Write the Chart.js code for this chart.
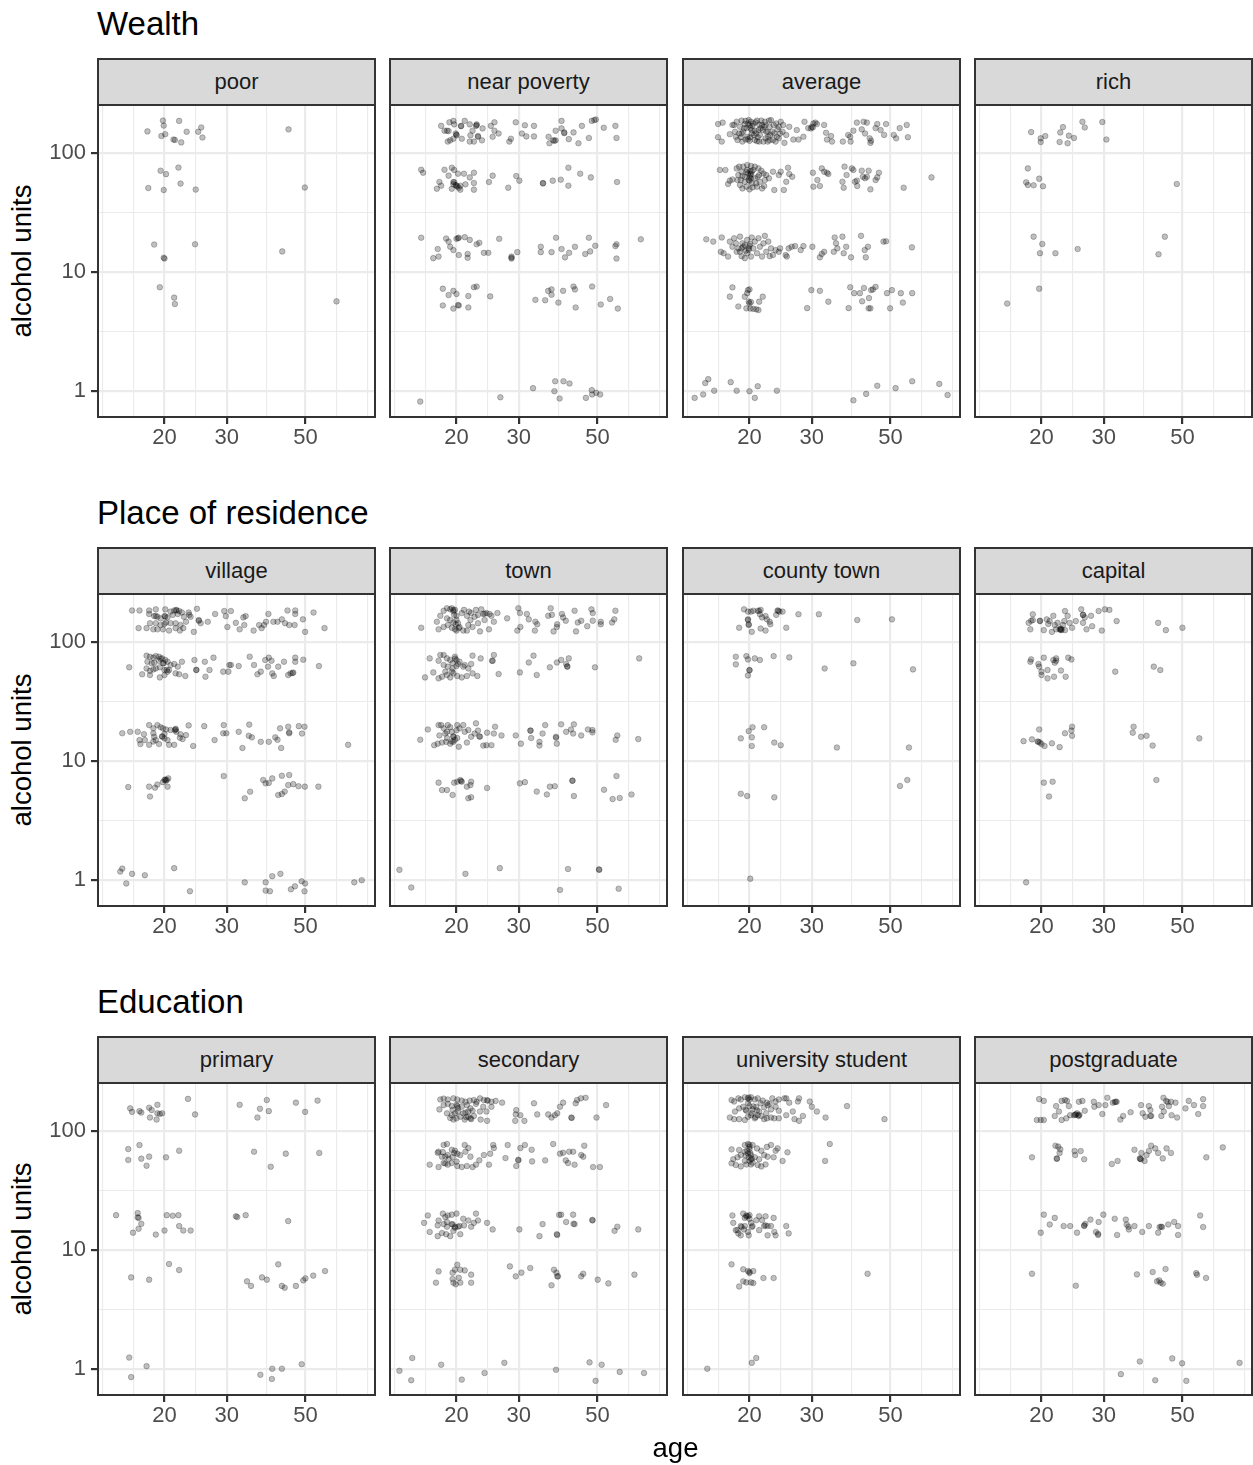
<!DOCTYPE html>
<html><head><meta charset="utf-8">
<script src="https://cdn.jsdelivr.net/npm/chart.js@4.4.1/dist/chart.umd.min.js"></script>
<style>
html,body{margin:0;padding:0;background:#fff;}
#root{position:relative;width:1253px;height:1465px;overflow:hidden;font-family:'Liberation Sans',Arial,Helvetica,sans-serif;}
.title{position:absolute;left:97px;font-size:33px;color:#000;white-space:nowrap;line-height:33px;}
.strip{position:absolute;box-sizing:border-box;background:#D9D9D9;border:2px solid #333;border-bottom:none;display:flex;align-items:center;justify-content:center;font-size:22px;color:#1A1A1A;white-space:nowrap;}
.ylab{position:absolute;width:300px;height:30px;line-height:30px;text-align:center;font-size:27.5px;color:#000;transform:rotate(-90deg);white-space:nowrap;}
.xlab{position:absolute;width:200px;height:30px;line-height:30px;text-align:center;font-size:27.5px;color:#000;}
canvas{position:absolute;}
</style>
</head><body><div id="root"></div>
<script>
// ---------------- data ----------------
const rowTitles = ['Wealth', 'Place of residence', 'Education'];
const facetLabels = [
  ['poor', 'near poverty', 'average', 'rich'],
  ['village', 'town', 'county town', 'capital'],
  ['primary', 'secondary', 'university student', 'postgraduate']
];
const xAxisTitle = 'age';
const yAxisTitle = 'alcohol units';
const xTicks = [20, 30, 50];
const xMinor = [13.34, 16.33, 24.49, 38.73, 61.24, 75.0];
const yTicks = [1, 10, 100];
const yMinor = [3.162, 31.62];
const xRange = [12.98, 78.6];
const yRange = [0.601, 251.6];

// each point: [age, alcohol units]
const wealth_poor = [
[17.9,151],[19.8,186],[19.9,169],[22.0,185],[19.6,138],[20.1,143],[21.2,129],[21.4,128],[22.3,122],[23.1,150],[24.9,150],[25.4,163],[25.6,134],[44.8,157],
[19.5,70.6],[20.2,66],[21.9,75],[18.0,50.5],[19.9,48.6],[22.2,55],[24.5,49],[49.8,51],
[18.7,16.9],[24.4,17],[19.9,13.1],[20.0,12.9],[43,14.8],
[19.4,7.4],[21.3,6.05],[21.4,5.35],[61.2,5.63]
];
const wealth_nearPoverty = [
[18.1,168],[19.1,180],[19.6,185],[19.7,173],[21.1,185],[20.6,168],[21.8,173],[22.8,173],[22.7,168],[23.7,160],[25.0,168],[25.6,180],[18.5,153],[18.8,153],[19.9,145],[20.0,140],[20.7,131],[18.9,124],[19.2,127],[19.6,131],[21.9,140],[22.2,153],[23.0,136],[21.8,124],[22.4,124],[23.6,127],[25.3,136],[25.6,153],[26.3,145],[28.2,124],[28.5,131],[29.4,180],[30.6,145],[31.2,170],[31.5,137],[33.1,168],[33.1,137],[36.4,136],[36.6,120],[37.5,127],[38.1,127],[38.1,153],[39.6,185],[39.6,160],[40.3,148],[42.8,148],[41.5,130],[44.2,120],[45.2,168],[47.3,133],[48.2,185],[49.5,190],[52.1,162],[56.2,168],[56.6,133],
[19.0,152],[20.0,142],[20.6,167],[22.8,170],[23.0,138],[37.8,126],[40.3,146],[49.0,188],
[15.9,71.9],[16.1,67.9],[18.5,71.9],[19.4,74.8],[19.7,71.6],[19.0,64.1],[20.2,66.6],[21.0,66.6],[21.8,62.0],[22.4,67.9],[17.9,56.7],[18.1,52.8],[17.6,49.8],[19.6,56.7],[19.6,54.2],[20.0,52.8],[20.3,50.8],[19.4,49.8],[20.5,48.9],[20.5,52.8],[21.2,54.2],[22.4,55.6],[22.4,48.9],[24.7,56.7],[25.3,64.1],[28.0,50.8],[29.5,63.7],[30.1,58.2],[35.1,55.6],[35.1,55.2],[37.4,58.2],[39.4,59.3],[41.4,74.8],[41.4,52.8],[44.7,66.6],[47.9,62.0],[56.8,56.7],
[19.7,56.5],[20.1,52],[19.9,53.5],
[15.9,19.3],[18.7,19.0],[19.0,17.9],[19.2,16.2],[19.6,15.2],[20.0,18.9],[20.3,19.3],[21.1,19.5],[21.8,18.5],[22.8,17.0],[23.2,17.5],[17.7,15.5],[17.2,13.0],[17.8,13.4],[20.3,13.8],[21.5,14.1],[21.5,13.1],[23.9,14.4],[24.6,14.4],[26.4,18.9],[28.6,13.4],[28.6,12.9],[29.7,14.6],[34.6,16.2],[34.6,14.6],[37.1,14.6],[38.2,19.3],[39.6,15.5],[40.5,13.2],[41.6,14.4],[43.2,16.2],[46.2,14.1],[47.3,19.3],[47.7,14.8],[49.3,16.5],[56.2,16.4],[56.6,17.0],[56.6,12.9],[66.3,18.7],
[20.2,19.1],[28.6,13.1],
[18.3,7.2],[19.6,6.9],[20.0,6.5],[19.0,6.36],[21.6,6.25],[22.4,7.4],[22.8,7.5],[24.9,6.2],[18.3,5.2],[19.6,4.9],[20.3,5.2],[21.6,5.0],[33.4,5.8],[35.6,5.75],[36.3,6.9],[37.1,7.1],[37.1,6.4],[38.8,5.5],[40.0,6.9],[42.8,7.5],[43.2,7.1],[43.4,5.0],[48.3,7.5],[51.1,5.3],[54.3,5.9],[57.1,4.9],
[20.2,5.25],
[15.8,0.81],[26.6,0.88],[32.9,1.05],[38.0,1.2],[40.1,1.2],[41.7,1.15],[37.8,0.99],[39.1,0.86],[46.4,0.87],[48.2,1.01],[48.3,0.93],[49.6,0.96],[50.9,0.93]
];
const wealth_average = [
[16.3,174],[16.8,179],[16.3,135],[16.7,124],[17.9,171],[17.6,143],
[18.1,171],[18.4,182],[18.8,165],[19.0,186],[19.2,150],[19.4,174],[19.7,136],[19.9,188],[20.1,161],[20.3,145],[20.5,176],[20.7,128],[21.0,186],[21.2,155],[21.4,141],[21.7,171],[21.9,124],[22.1,182],[22.3,150],[22.6,136],[22.8,165],[23.0,188],[23.3,128],[23.5,145],[23.8,176],[24.0,157],[24.2,132],[24.5,182],[24.8,150],[25.1,121],[25.4,141],
[18.3,136],[18.5,128],[18.7,145],[19.1,124],[19.6,161],[20.0,126],[20.4,168],[20.9,145],[21.3,124],[21.8,155],[22.2,132],[22.7,186],[23.2,150],[23.7,124],[24.2,165],[18.2,150],[18.9,135],[19.8,176],[20.7,153],[21.6,186],[22.5,124],[23.4,171],[24.4,145],[19.5,129],[20.2,182],[21.1,135],[22.0,165],[22.9,141],[23.9,136],[24.9,171],
[19.3,160],[20.0,170],[20.6,140],[21.5,160],[19.8,130],[20.8,180],[22.2,170],[19.0,145],[21.0,125],[20.3,155],[22.5,150],[19.5,185],[21.3,172],[20.1,135],[22.8,127],
[25.9,165],[26.6,129],[27.2,155],[27.5,129],[28.4,136],[28.6,182],[29.3,161],[30.0,165],[30.3,176],[30.7,179],[31.0,174],[32.5,171],[32.9,147],[33.1,129],[34.0,138],[34.2,124],[36.7,124],[38.0,141],[38.5,136],[38.6,124],[39.3,153],[40.2,179],[41.5,157],[42.0,182],[42.4,145],[42.9,179],[43.7,132],[43.9,121],[44.1,126],[45.4,161],[45.9,174],[46.9,155],[48.0,141],[48.6,174],[51.1,141],[51.9,132],[53.1,161],[55.6,171],[56.0,135],
[29.8,160],[30.2,163],
[16.5,71.6],[17.1,71.6],[17.4,54.6],[17.6,58.2],[17.9,59.6],
[18.4,73.8],[18.7,76.3],[19.0,69.2],[19.2,76.3],[19.4,62.8],[19.7,71.6],[19.9,58.9],[20.1,64.9],[20.2,77.3],[20.3,55.2],[20.5,71.6],[20.7,60.9],[21.0,51.8],[21.2,73.8],[21.4,57.0],[21.7,50.1],[21.9,66.9],[22.1,58.9],[18.5,58.9],[18.8,53.5],[19.1,50.1],[19.6,51.8],[20.0,49.2],[20.4,51.1],[20.9,55.2],[21.3,64.9],[18.6,64.9],[18.9,58.9],[19.4,57.0],[19.8,66.9],[20.2,60.9],[20.7,76.3],[21.1,62.8],[21.6,70.6],[22.0,52.5],[19.7,78.8],[20.0,62.0],[20.3,69.2],[19.1,63.7],
[22.3,64.9],[22.7,60.9],[23.3,69.2],[23.5,48.6],[24.2,64.9],[24.5,69.2],[25.0,48.6],[25.4,57.0],[25.7,74.8],[25.9,66.2],[26.4,62.8],
[30.2,67.9],[30.3,51.8],[31.1,58.9],[31.6,52.5],[32.0,73.8],[32.5,69.2],[33.1,67.9],[33.4,66.2],[36.6,57.0],[36.9,50.8],[37.1,76.3],[37.6,64.9],[38.9,73.8],[39.3,71.6],[39.7,57.0],[40.2,58.2],[40.3,52.5],[41.5,70.6],[41.8,62.8],[42.4,60.9],[42.9,62.8],[43.4,70.6],[43.9,49.2],[45.4,58.9],[45.9,62.0],[46.4,67.9],[54.5,50.8],[65.3,62.0],
[20.1,70],[19.6,69],[20.0,58],[20.2,66],
[15.1,18.7],[15.8,17.9],[16.7,19.4],[16.6,14.7],[16.9,14.3],[17.4,13.4],[17.6,17.9],[17.9,16.2],[18.1,19.1],[18.3,17.3],[18.4,14.7],[18.6,15.7],[18.8,19.7],[19.0,13.5],[19.1,17.3],[19.2,16.2],[19.4,13.0],[19.7,18.5],[19.9,15.2],[20.1,17.1],[20.2,13.4],[20.3,19.4],[20.5,15.7],[20.7,17.9],[21.0,14.3],[21.2,19.1],[21.4,16.2],[21.7,13.4],[21.9,17.3],[22.1,20.0],[22.3,14.7],[22.6,17.9],[22.8,13.5],[23.0,15.7],[23.3,13.8],[23.7,15.2],[24.2,14.7],[24.4,15.7],[25.3,13.8],[25.5,13.4],[25.8,15.7],[26.3,16.2],[26.9,16.4],[27.9,15.2],[28.4,16.4],[30.1,16.2],[31.6,13.2],[32.0,14.1],[32.5,14.7],[34.6,14.7],[34.8,19.4],[35.1,17.3],[35.4,15.7],[36.6,19.7],[36.9,14.3],[37.5,16.2],[38.7,13.2],[41.3,20.0],[42.3,15.2],[42.6,13.2],[43.2,16.2],[47.8,17.9],[48.6,18.0],[57.5,16.0],
[19.0,15.7],[19.4,16.7],[19.9,15.7],[18.8,14.7],[19.7,14.3],[19.5,15.0],[20.0,16.5],
[17.9,7.38],[17.6,6.17],[18.6,5.1],[19.4,6.17],[19.7,6.6],[19.8,7.0],[20.0,7.1],[19.9,5.6],[20.0,5.42],[20.2,5.56],[21.3,5.6],[21.8,6.17],[19.6,4.92],[20.1,4.9],[20.5,4.87],[20.9,4.83],[21.2,4.76],[29.1,4.94],[29.9,7.0],[31.6,6.9],[33.4,5.6],[38.1,4.94],[38.5,7.4],[39.5,6.6],[41.0,6.6],[41.6,5.64],[42.1,7.3],[43.4,4.92],[43.5,6.0],[43.9,4.92],[44.1,7.0],[44.6,7.1],[45.4,7.45],[48.9,6.6],[49.9,4.92],[50.5,7.0],[53.5,6.6],[54.2,5.5],[57.6,6.6],
[14.0,0.87],[14.8,0.93],[15.0,1.16],[15.3,1.25],[15.9,1.0],[17.7,1.18],[18.4,1.0],[20.0,0.99],[20.7,0.87],[21.1,1.09],[23.9,1.0],[39.3,0.83],[42.7,0.94],[45.9,1.1],[51.7,1.05],[57.6,1.2],[68.7,1.14],[72.5,0.92]
];
const wealth_rich = [
[18.7,149],[19.9,132],[19.9,123],[20.5,138],[22.6,148],[23.0,164],[22.5,123],[23.7,120],[23.9,139],[24.7,133],[26.1,182],[26.5,163],[29.7,181],[30.5,129],
[18.3,73.8],[18.1,56.3],[18.3,53.5],[19.0,53.2],[19.7,60.5],[20.2,52.2],[48.2,54.6],
[19.0,19.7],[20.1,17.1],[19.8,14.3],[21.9,14.3],[25.3,15.5],[44.6,19.7],[42.8,14.0],
[19.7,7.2],[16.0,5.4]
];
const residence_village = [
[16.2,183],[17.0,183],[18.1,183],[18.9,187],[20.1,187],[20.8,179],[21.3,183],[21.6,185],[22.0,181],[22.4,176],[23.4,176],[24.7,189],[18.1,171],[18.7,164],[19.1,162],[19.5,157],[20.0,164],[20.4,160],[21.1,168],[21.8,171],[22.7,162],[23.5,168],[25.0,152],[25.3,143],[23.7,162],[18.2,143],[18.9,143],[19.5,138],[20.0,141],[20.8,143],[21.5,143],[22.2,138],[23.0,147],[16.9,130],[17.8,130],[18.6,127],[19.1,127],[19.8,127],[20.6,124],[21.5,130],[22.1,124],[22.6,130],[24.2,121],[26.5,147],[27.8,171],[29.5,181],[30.8,181],[29.8,164],[30.1,133],[31.8,144],[32.6,127],[33.4,160],[33.9,164],[33.6,138],[35.7,124],[37.0,138],[37.6,130],[38.2,138],[38.7,147],[39.3,171],[40.6,147],[41.7,147],[42.9,154],[43.8,143],[44.5,183],[46.8,183],[46.8,171],[45.0,138],[46.6,138],[49.2,154],[49.9,121],[52.7,176],[56.6,130],
[18.9,165],[20.1,163],[21.6,183],[25.0,150],[20.2,145],
[15.9,60.9],[17.8,76.3],[18.2,74.8],[18.6,73.4],[18.9,75.8],[19.3,74.8],[19.7,72.5],[20.1,70.2],[17.9,67.9],[18.4,65.8],[18.7,66.6],[19.3,69.2],[19.8,65.8],[20.4,67.9],[20.8,63.7],[21.3,65.0],[21.8,61.7],[22.4,67.9],[17.8,59.6],[18.2,56.9],[18.6,58.5],[18.9,59.6],[19.4,60.9],[20.0,57.8],[20.6,57.8],[17.3,53.2],[18.2,52.5],[19.4,50.1],[20.0,52.5],[20.4,56.0],[21.5,54.2],[22.0,53.2],[22.9,51.5],[24.3,70.2],[24.6,57.8],[26.0,67.9],[26.1,50.8],[26.8,57.8],[27.5,73.4],[29.3,56.0],[30.3,56.0],[30.5,63.7],[30.8,63.7],[32.4,62.4],[34.8,74.8],[35.8,63.7],[36.6,53.2],[37.4,56.0],[38.5,70.2],[39.4,73.4],[40.1,69.2],[39.2,61.7],[40.3,54.2],[40.7,51.5],[41.9,61.7],[43.5,67.9],[44.7,52.5],[45.4,54.2],[46.2,55.0],[46.8,73.4],[46.8,67.9],[49.3,70.6],[54.6,62.4],
[19.9,66],[20.3,58],[19.5,72],[46.0,54.5],[24.6,58],
[15.2,17.0],[16.0,17.5],[16.8,17.5],[17.5,16.7],[18.1,19.9],[18.6,18.7],[19.1,19.9],[19.5,19.1],[19.8,18.7],[20.2,18.3],[20.8,18.1],[21.5,18.3],[21.6,17.5],[22.2,16.7],[23.4,19.8],[17.0,14.9],[17.1,13.8],[17.6,14.9],[18.1,13.6],[18.6,17.0],[18.7,15.9],[18.9,14.9],[19.3,13.8],[19.7,15.9],[20.0,15.4],[20.4,14.9],[20.6,13.6],[21.3,13.6],[22.5,15.2],[23.0,16.4],[24.1,13.3],[25.9,19.5],[27.7,14.9],[29.4,19.9],[29.3,17.0],[29.9,17.0],[32.4,17.5],[33.2,12.8],[34.7,20.1],[34.6,16.2],[35.3,15.7],[37.4,14.4],[39.4,14.4],[41.1,15.7],[41.7,15.0],[42.7,12.8],[42.4,18.7],[44.7,19.3],[45.0,17.0],[47.9,19.5],[49.7,19.3],[48.9,16.9],[66.0,13.6],
[19.7,16.0],[21.4,18.0],[21.5,18.5],[18.6,14.5],[45.0,17.3],[20.0,16.8],[22.1,15.6],
[15.8,6.0],[18.1,6.05],[18.2,5.0],[18.8,5.93],[19.1,6.3],[19.8,6.6],[20.0,6.88],[20.3,6.9],[20.5,7.1],[20.4,6.05],[29.4,7.43],[33.7,4.83],[34.9,5.49],[38.0,6.88],[38.6,6.45],[39.4,6.5],[40.3,7.1],[42.9,7.48],[45.0,7.58],[44.7,6.24],[46.2,6.35],[47.8,6.1],[49.8,6.05],[41.9,5.15],[42.9,5.25],[43.7,5.5],[54.4,6.05],
[20.1,6.95],[20.2,6.8],
[15.0,1.17],[15.2,1.24],[16.2,1.12],[15.6,0.93],[17.6,1.09],[21.3,1.25],[23.6,0.8],[33.7,0.95],[38.6,0.95],[38.6,0.81],[39.7,0.8],[40.3,1.07],[42.5,1.12],[45.5,0.83],[46.7,0.88],[48.8,0.97],[49.9,0.93],[49.7,0.8],[68.7,0.95],[72.1,0.99]
];
const residence_town = [
[15.9,131],[17.6,147],[17.8,127],[18.0,165],[18.4,182],[18.8,191],[19.2,187],[19.4,191],[19.6,185],[19.7,168],[20.0,152],[20.2,143],[18.9,138],[19.4,131],[19.8,127],[20.0,124],[20.4,133],[20.7,174],[21.0,185],[21.4,165],[21.7,179],[21.9,152],[22.2,133],[22.5,162],[22.7,185],[23.0,143],[23.3,122],[23.5,187],[23.8,171],[24.0,152],[24.3,174],[24.7,127],[25.1,165],[25.5,147],[26.1,174],[20.9,124],[21.6,138],[18.8,157],[18.4,133],[19.2,152],[19.6,145],[21.4,124],[22.0,174],[24.8,171],[27.8,157],[29.9,191],[30.2,174],[29.7,124],[30.3,133],[31.6,171],[32.0,154],[33.3,124],[33.4,147],[33.8,140],[36.3,165],[36.9,191],[37.6,122],[38.4,133],[38.5,140],[39.7,171],[40.0,160],[40.7,150],[43.1,182],[43.5,122],[44.0,145],[45.0,150],[46.8,135],[48.1,187],[48.5,174],[48.5,150],[51.1,147],[51.1,140],[55.0,145],[55.8,154],[56.2,182],
[19.6,180],[19.8,185],[20.0,165],[19.9,140],[20.3,130],[23.0,168],[37.2,168],[24.0,172],
[16.8,72.4],[17.8,69.2],[18.0,77.3],[18.4,77.3],[18.8,72.4],[19.2,70.2],[19.8,74.8],[20.0,70.2],[20.4,67.9],[21.1,63.7],[22.2,76.3],[23.4,72.4],[25.5,77.3],[25.2,69.2],[18.4,63.7],[18.9,61.7],[19.5,59.6],[20.0,62.4],[20.9,61.7],[21.6,59.6],[22.0,65.0],[17.2,55.2],[16.3,50.1],[17.8,49.2],[18.2,50.8],[18.8,52.5],[19.2,50.1],[19.6,54.2],[20.1,51.5],[20.7,50.1],[21.4,51.5],[22.2,54.2],[22.9,51.5],[18.6,56.0],[19.4,56.0],[26.3,53.5],[30.2,55.2],[32.0,66.9],[33.0,76.3],[33.7,52.5],[36.7,60.9],[38.4,66.9],[39.5,70.2],[40.8,65.0],[41.1,61.7],[41.5,72.4],[49.2,60.9],[65.6,72.4],
[19.8,72],[20.2,65],[19.5,66],[25.3,69],[41.1,62],
[16.6,18.3],[15.8,15.0],[17.3,13.5],[17.8,19.9],[17.9,16.3],[18.1,19.9],[18.4,18.7],[18.6,16.9],[18.8,15.5],[18.9,19.9],[19.2,19.1],[19.4,17.5],[19.6,15.9],[19.8,15.0],[20.1,19.9],[20.4,18.7],[20.9,19.9],[21.1,17.5],[21.6,18.1],[17.7,13.9],[18.2,14.2],[18.7,14.4],[19.2,13.9],[19.6,14.4],[20.1,15.5],[20.3,13.1],[21.4,14.2],[22.0,15.9],[22.5,16.9],[22.7,20.6],[23.0,17.9],[23.3,15.9],[23.8,13.4],[24.3,13.5],[24.4,17.2],[25.1,13.5],[25.5,16.9],[25.7,19.3],[26.8,16.3],[29.4,16.3],[30.4,13.9],[32.3,17.9],[32.5,15.5],[34.3,14.4],[34.3,13.4],[35.0,16.9],[35.6,19.9],[38.2,15.9],[38.4,13.9],[39.5,20.2],[40.8,17.5],[42.1,18.3],[42.7,16.9],[42.9,20.2],[45.0,16.3],[47.0,18.3],[48.4,18.1],[48.4,17.3],[56.3,15.0],[56.9,16.3],[65.2,15.2],
[19.6,16],[19.4,14.5],[20.0,18],[18.8,17.5],[23.2,16.0],[38.2,15.6],[32.4,17.9],
[17.8,6.54],[18.2,5.67],[18.8,5.67],[19.5,5.15],[19.7,6.54],[20.1,6.66],[20.5,6.88],[20.7,6.66],[21.4,6.05],[21.9,6.24],[22.0,6.66],[21.6,4.83],[22.0,4.93],[24.4,5.9],[30.2,6.45],[31.2,6.6],[33.7,5.5],[36.0,5.2],[36.7,6.05],[37.9,6.1],[42.5,6.79],[42.9,5.05],[52.2,5.7],[55.2,4.76],[56.6,7.43],[57.8,4.86],[62.4,5.2],
[42.5,6.8],[20.6,6.75],
[13.8,1.21],[14.9,0.86],[21.2,1.12],[26.5,1.25],[39.2,0.82],[41.3,1.23],[50.5,1.22],[50.6,1.21],[57.4,0.84]
];
const residence_countyTown = [
[19.3,187],[19.8,179],[20.2,179],[20.5,182],[21.1,182],[21.5,185],[21.4,170],[21.7,160],[22.2,164],[22.4,154],[22.8,147],[22.9,140],[23.8,168],[24.1,182],[24.3,179],[24.8,179],[19.8,154],[19.9,138],[18.7,131],[20.3,121],[21.5,129],[22.2,124],[25.4,131],[27.5,170],[31.4,170],[40.3,152],[50.5,154],
[21.3,181],[24.0,183],[19.8,152],[19.9,140],
[18.3,74.8],[18.3,64.5],[19.6,75.7],[19.8,71.0],[20.7,72.4],[21.4,70.2],[23.4,75.7],[25.9,73.8],[20.0,57.8],[20.0,57.5],[19.8,52.1],[32.6,59.6],[39.3,65.8],[57.9,58.5],
[20.4,19.1],[19.9,17.7],[22.0,19.1],[18.9,15.4],[20.3,15.7],[20.3,13.3],[23.5,14.2],[24.5,13.5],[35.3,12.9],[56.4,12.9],
[18.9,5.28],[19.7,5.05],[23.5,4.92],[53.2,6.13],[55.8,6.88],
[20.1,1.02]
];
const residence_capital = [
[18.9,170],[18.4,144],[18.6,127],[18.9,152],[19.8,149],[20.3,125],[20.7,154],[21.1,149],[20.9,141],[21.6,165],[21.4,121],[21.8,138],[22.2,144],[22.5,127],[22.7,129],[23.0,138],[23.3,181],[23.2,149],[23.7,165],[24.0,144],[24.4,131],[25.0,149],[25.9,187],[26.2,168],[26.5,160],[26.2,144],[26.8,127],[27.6,165],[27.8,135],[29.0,181],[29.6,124],[30.2,187],[31.1,185],[32.6,149],[42.7,144],[44.9,125],[50.0,131],[22.7,125],[22.0,127],[23.3,125],
[19.8,150],[22.6,127],[22.8,126],[26.2,168],[18.7,150],
[18.7,71.0],[18.6,67.9],[19.6,65.0],[19.7,61.7],[20.3,73.4],[20.0,56.0],[20.0,52.5],[20.8,57.8],[20.8,49.2],[21.6,70.2],[22.0,72.4],[21.8,66.6],[22.0,69.2],[21.7,50.8],[22.7,57.3],[23.4,50.8],[23.8,73.4],[24.3,71.0],[32.3,56.0],[41.5,61.7],[43.3,57.8],
[19.7,18.3],[17.8,14.6],[18.8,15.1],[19.6,14.4],[20.0,13.8],[20.4,13.3],[21.4,14.0],[22.5,13.0],[23.3,17.0],[24.3,17.9],[24.4,19.3],[24.4,16.2],[36.4,19.3],[36.2,17.2],[38.2,15.9],[39.6,16.2],[41.2,13.4],[55.8,15.4],
[19.5,14.5],[19.8,14.2],
[20.3,6.54],[21.5,6.66],[21.0,5.0],[42.2,6.88],
[18.1,0.95]
];
const education_primary = [
[16.0,154],[16.2,144],[17.0,146],[17.2,142],[18.1,156],[18.4,149],[18.2,129],[19.1,165],[19.1,140],[19.4,138],[19.7,140],[19.0,124],[23.3,185],[24.4,137],[32.6,165],[37.2,153],[36.6,129],[38.9,181],[39.4,146],[47.0,172],[49.9,144],[54.1,179],
[15.8,70.1],[15.8,56.7],[17.0,75.7],[17.2,58.2],[18.1,60.5],[17.8,50.8],[20.2,59.7],[22.0,67.9],[35.8,66.6],[39.9,49.8],[44.0,64.1],[54.7,65.0],
[14.6,19.5],[16.8,20.3],[16.8,18.7],[16.9,18.5],[17.2,16.5],[16.9,15.0],[16.3,13.9],[18.9,13.4],[20.0,14.5],[20.3,19.5],[21.1,19.3],[21.9,19.5],[22.0,15.8],[22.6,14.5],[23.7,14.5],[31.8,19.1],[32.1,18.8],[33.9,19.5],[44.7,17.4],
[20.6,7.58],[22.0,6.75],[16.1,5.85],[18.1,5.6],[34.2,5.42],[35.1,4.96],[37.7,5.85],[38.9,5.6],[41.9,7.53],[42.9,4.96],[43.7,4.79],[47.0,4.96],[49.3,5.52],[50.0,5.74],[52.6,6.05],[56.8,6.62],
[15.9,1.24],[17.8,1.05],[16.1,0.85],[37.3,0.89],[40.3,1.0],[42.9,1.0],[40.2,0.82],[48.8,1.09]
];
const education_secondary = [
[18.0,183],[18.4,186],[18.9,183],[19.6,187],[20.1,183],[20.7,179],[21.2,175],[21.8,179],[22.4,181],[23.3,187],[23.9,181],[24.5,179],[25.1,175],[25.8,178],[26.9,172],[17.9,151],[18.4,164],[18.9,168],[19.4,161],[20.1,161],[20.7,159],[21.4,164],[21.9,154],[22.7,168],[23.8,159],[25.1,159],[18.8,140],[19.4,135],[19.8,140],[20.2,145],[20.9,140],[21.6,145],[22.2,147],[23.3,145],[24.3,145],[19.6,124],[20.0,127],[20.5,131],[21.1,124],[21.6,131],[21.9,127],[22.4,133],[23.4,124],[24.4,121],[29.5,149],[29.4,137],[30.3,135],[29.3,121],[31.1,121],[33.1,170],[33.8,137],[36.3,137],[37.1,129],[37.9,135],[38.5,140],[39.2,159],[40.0,172],[42.2,129],[43.4,170],[43.8,181],[44.9,187],[46.3,189],[49.7,129],[52.9,164],
[20.0,165],[21.3,130],[22.0,125],[20.2,155],[19.5,150],[22.8,175],[24.4,180],[42.3,128],[21.2,142],[19.2,128],
[17.7,65.3],[17.8,66.6],[18.4,75.8],[18.8,77.3],[18.2,60.5],[18.6,60.5],[18.9,62.4],[19.4,69.2],[19.8,67.9],[20.1,64.1],[20.5,62.4],[21.1,75.8],[21.6,71.5],[21.2,66.6],[21.9,60.5],[16.8,51.8],[17.8,49.5],[18.4,53.5],[18.9,51.8],[19.4,53.5],[20.1,50.5],[20.7,49.5],[21.4,50.5],[22.2,49.5],[22.7,51.8],[23.2,56.3],[23.9,62.4],[24.7,51.8],[24.9,64.1],[25.4,75.8],[25.5,71.5],[27.5,58.9],[27.9,75.8],[29.5,50.5],[29.9,56.3],[30.3,71.5],[31.2,75.8],[32.6,69.2],[32.7,55.2],[35.6,56.3],[37.5,77.3],[39.2,64.1],[40.0,65.3],[40.7,56.3],[41.3,53.5],[41.6,66.6],[42.7,66.6],[43.1,51.8],[45.0,62.4],[45.6,60.5],[45.9,74.8],[48.6,49.5],[50.8,49.5],
[18.3,66],[19.7,65],[19.5,60],[20.0,55],[29.9,57],[19.0,58],[18.6,53],
[16.2,16.8],[16.6,19.4],[17.8,17.6],[17.7,16.0],[18.3,20.1],[18.6,18.8],[18.9,19.4],[19.4,19.7],[20.0,20.1],[18.8,17.1],[19.4,16.4],[18.4,16.4],[18.8,15.6],[19.8,15.6],[20.2,15.6],[20.9,18.2],[21.6,17.6],[22.0,15.6],[22.4,16.8],[22.7,20.1],[23.0,17.6],[16.8,14.1],[17.7,13.0],[18.2,13.8],[18.7,13.5],[19.2,13.0],[19.6,14.4],[20.5,13.5],[24.4,16.8],[25.3,14.8],[30.1,14.8],[34.3,13.0],[35.0,16.4],[38.4,13.5],[38.5,13.3],[39.5,19.7],[40.8,17.1],[42.7,19.7],[43.1,16.4],[48.4,17.6],[55.9,14.4],[56.9,15.6],[65.2,14.8],
[19.5,16.3],[19.8,15.3],[20.4,15.8],[21.0,16.0],[39.0,19.6],[42.8,16.5],[48.4,17.8],
[17.8,6.57],[17.5,5.28],[19.5,6.41],[19.8,6.79],[20.1,7.48],[20.5,6.79],[21.1,6.70],[19.5,5.67],[19.6,5.28],[19.9,5.12],[20.5,5.28],[20.3,5.81],[22.0,6.17],[22.0,5.28],[28.3,7.24],[29.4,5.97],[30.5,6.41],[32.3,7.01],[37.1,5.02],[37.7,6.79],[38.3,6.41],[38.7,5.97],[38.5,5.97],[45.0,5.97],[45.6,6.28],[50.1,5.60],[53.7,5.21],[63.6,6.17],
[15.0,1.23],[13.8,0.96],[14.9,0.8],[18.1,1.08],[20.7,0.81],[24.0,0.92],[27.3,1.12],[38.2,0.98],[47.5,1.13],[51.4,1.08],[49.4,0.79],[57.8,0.94],[67.7,0.92]
];
const education_university = [
[17.8,181],[18.1,176],[18.6,187],[18.9,183],[19.4,191],[19.8,187],[20.2,191],[20.7,183],[21.1,187],[21.8,179],[22.4,172],[22.8,168],[23.2,187],[23.7,176],[24.2,183],[25.1,187],[25.4,187],[25.9,172],[27.6,187],[27.4,176],[18.2,145],[18.7,154],[19.2,159],[19.6,147],[20.0,161],[20.4,151],[20.9,159],[21.3,145],[22.0,157],[22.5,164],[23.0,151],[23.7,159],[24.2,147],[25.4,135],[26.5,145],[28.3,133],[17.6,129],[18.1,125],[18.7,125],[19.4,123],[19.8,131],[20.2,135],[20.7,127],[21.1,135],[21.6,133],[22.0,125],[22.4,127],[23.0,129],[23.5,127],[24.2,127],[26.8,125],[27.6,121],[29.6,176],[30.0,159],[31.0,145],[32.8,129],[37.7,161],[48.1,125],
[19.8,170],[20.0,182],[20.5,160],[19.5,150],[20.3,140],[21.5,170],[20.8,130],[19.9,190],[21.0,148],[22.3,140],
[17.8,69.7],[18.7,68.9],[19.4,75.8],[19.8,77.3],[20.0,73.1],[20.4,75.8],[21.0,71.0],[21.6,67.9],[22.4,73.1],[23.0,75.8],[24.0,71.0],[23.7,67.9],[25.6,65.8],[18.0,57.6],[18.5,59.8],[18.9,62.4],[19.4,66.6],[19.8,64.5],[20.2,62.4],[20.7,59.8],[21.3,57.6],[22.0,62.4],[22.5,60.5],[23.4,59.8],[17.8,53.2],[18.3,51.5],[18.9,50.1],[19.6,52.0],[20.0,55.7],[20.4,53.9],[21.1,51.5],[21.6,50.1],[22.2,52.0],[24.8,55.7],[19.4,55.7],[20.2,57.6],[33.7,77.3],[32.7,55.7],
[20.0,70],[20.1,65],[19.9,60],[20.2,52],[20.0,76],[19.7,68],[20.3,58],[19.5,62],
[17.9,19.4],[18.0,16.8],[18.3,14.6],[18.6,13.7],[18.9,13.2],[19.2,20.1],[19.4,18.5],[19.6,19.4],[19.8,19.1],[20.0,18.2],[20.2,16.8],[20.4,15.8],[19.4,15.8],[18.9,15.8],[18.5,14.6],[19.8,14.1],[21.3,19.1],[22.2,19.1],[23.4,18.5],[21.3,14.6],[22.0,15.8],[22.5,15.8],[23.0,15.8],[23.5,14.1],[23.7,13.2],[22.5,13.2],[19.9,13.2],[25.4,15.8],[25.8,13.7],[20.9,17.7],[21.7,17.7],
[19.6,19.0],[20.0,19.5],[19.0,15.5],[19.3,14.8],[20.3,15.5],[22.2,16.0],
[17.8,7.53],[19.2,6.84],[19.8,6.62],[20.0,6.36],[20.5,6.62],[19.2,5.42],[19.6,5.31],[20.2,5.31],[20.5,5.24],[18.7,4.91],[21.9,5.78],[23.4,5.78],[43.1,6.28],[20.0,6.5],
[15.2,1.0],[20.3,1.12],[20.9,1.23]
];
const education_postgraduate = [
[19.7,184],[20.3,178],[19.4,123],[19.9,123],[20.3,123],[21.8,133],[22.0,161],[22.4,145],[22.8,178],[23.3,181],[23.6,178],[23.9,161],[22.8,123],[23.5,127],[24.1,135],[24.7,135],[25.2,140],[25.5,175],[26.1,178],[25.5,133],[26.5,147],[28.1,175],[28.2,159],[29.0,164],[29.7,138],[30.3,164],[30.7,189],[31.8,172],[32.4,175],[33.4,124],[34.0,133],[35.7,143],[38.2,164],[38.6,140],[39.3,131],[40.2,161],[40.6,133],[40.6,149],[40.8,133],[43.6,133],[44.2,189],[43.8,159],[44.3,145],[45.0,178],[45.8,161],[46.4,175],[47.8,172],[46.6,135],[48.3,129],[51.0,154],[52.1,178],[53.9,164],[55.4,138],[57.2,184],[57.2,161],
[25.4,135],[25.6,136],[32.2,174],[32.6,175],[45.4,174],[25.0,137],[24.9,136],
[18.8,59.7],[21.9,74.8],[22.3,73.4],[22.6,69.7],[22.5,65.0],[22.1,58.5],[24.8,67.5],[25.8,67.5],[24.9,62.4],[26.4,57.5],[31.6,52.5],[32.8,55.7],[36.6,69.2],[38.3,65.0],[37.9,58.5],[38.2,57.5],[39.1,55.7],[39.6,62.4],[40.2,67.5],[40.8,74.8],[41.9,71.0],[42.7,65.0],[44.0,58.5],[45.1,71.0],[46.4,65.0],[58.4,59.7],[65.0,72.4],
[22.1,58.0],[38.0,58.0],
[20.3,19.7],[19.9,13.9],[21.1,16.3],[21.8,18.5],[23.1,15.8],[24.1,15.8],[25.2,13.9],[26.4,15.8],[26.6,16.5],[27.5,17.9],[28.5,14.1],[28.9,13.3],[29.0,17.1],[29.9,19.7],[32.2,18.2],[32.7,13.3],[34.6,17.9],[34.8,16.3],[35.3,14.8],[36.6,15.8],[38.5,14.1],[40.2,15.8],[42.7,13.9],[43.1,15.5],[43.8,15.5],[45.6,16.3],[47.4,17.1],[48.6,15.8],[48.6,13.3],[56.1,19.4],[57.2,15.5],
[26.4,16.0],[35.2,15.6],[43.5,15.6],[28.9,13.6],
[18.8,6.28],[25.0,4.98],[37.2,6.2],[41.2,6.49],[44.8,6.88],[42.4,5.42],[43.0,5.52],[43.4,5.28],[44.0,5.18],[54.7,6.36],[55.0,6.16],[58.3,5.78],
[33.5,0.9],[37.9,1.15],[41.9,0.8],[46.8,1.22],[49.9,1.11],[51.3,0.79],[72.5,1.12]
];

const facetData = [
  [wealth_poor, wealth_nearPoverty, wealth_average, wealth_rich],
  [residence_village, residence_town, residence_countyTown, residence_capital],
  [education_primary, education_secondary, education_university, education_postgraduate]
];

// ---------------- layout ----------------
const FONT = "'Liberation Sans', Arial, Helvetica, sans-serif";
const PANEL_LEFT = [98, 390, 683, 975];
const PANEL_W = 277;
const PANEL_TOP0 = 105, PANEL_H = 312, ROW_STEP = 489;
const root = document.getElementById('root');

const xGrid = xMinor.concat(xTicks).sort((a, b) => a - b);
const yGrid = yMinor.concat(yTicks).sort((a, b) => a - b);

const boxPlugin = {
  id: 'panelBox',
  afterDraw(chart) {
    const a = chart.chartArea, ctx = chart.ctx;
    ctx.save();
    ctx.strokeStyle = '#333333';
    ctx.lineWidth = 2;
    ctx.strokeRect(a.left, a.top, a.right - a.left, a.bottom - a.top);
    ctx.restore();
  }
};

function addDiv(cls, text, style) {
  const d = document.createElement('div');
  d.className = cls;
  d.textContent = text;
  Object.assign(d.style, style);
  root.appendChild(d);
  return d;
}

function makeChart(r, c, pTop) {
  const YW = c === 0 ? 70 : 0;
  const padL = 10, padR = 16, padT = 26, XH = 45;
  const w = padL + YW + PANEL_W + padR;
  const h = padT + PANEL_H + XH;
  const cv = document.createElement('canvas');
  cv.width = w; cv.height = h;
  cv.style.left = (PANEL_LEFT[c] - padL - YW) + 'px';
  cv.style.top = (pTop - padT) + 'px';
  cv.style.width = w + 'px'; cv.style.height = h + 'px';
  root.appendChild(cv);
  const pts = facetData[r][c].map(p => ({ x: p[0], y: p[1] }));
  const isMajorX = v => xTicks.indexOf(v) >= 0;
  const isMajorY = v => yTicks.indexOf(v) >= 0;
  new Chart(cv.getContext('2d'), {
    type: 'scatter',
    data: { datasets: [{
      data: pts,
      pointRadius: 2.8,
      pointBackgroundColor: 'rgba(0,0,0,0.25)',
      pointBorderColor: 'rgba(0,0,0,0.24)',
      pointBorderWidth: 1,
      pointHoverRadius: 2.8
    }] },
    options: {
      responsive: false, animation: false, events: [], devicePixelRatio: 1,
      layout: { padding: { left: padL, right: padR, top: padT, bottom: 0 } },
      plugins: { legend: { display: false }, tooltip: { enabled: false }, title: { display: false } },
      scales: {
        x: {
          type: 'logarithmic', position: 'bottom', min: xRange[0], max: xRange[1], bounds: 'data',
          afterBuildTicks: s => { s.ticks = xGrid.map(v => ({ value: v })); },
          afterFit: s => { s.height = XH; },
          ticks: {
            autoSkip: false, maxRotation: 0, minRotation: 0, padding: 1, color: '#4D4D4D',
            font: { family: FONT, size: 22 },
            callback: v => isMajorX(v) ? String(v) : ''
          },
          grid: {
            color: '#EBEBEB',
            lineWidth: ctx => (ctx.tick && isMajorX(ctx.tick.value)) ? 2.2 : 1.1,
            drawTicks: true, tickLength: 7, tickWidth: 2.2,
            tickColor: ctx => (ctx.tick && isMajorX(ctx.tick.value)) ? '#333333' : 'rgba(0,0,0,0)'
          },
          border: { display: false }
        },
        y: {
          type: 'logarithmic', position: 'left', min: yRange[0], max: yRange[1], bounds: 'data',
          afterBuildTicks: s => { s.ticks = yGrid.map(v => ({ value: v })); },
          afterFit: s => { s.width = YW; },
          ticks: {
            display: c === 0, autoSkip: false, padding: 5, color: '#4D4D4D',
            font: { family: FONT, size: 22 },
            callback: v => isMajorY(v) ? String(v) : ''
          },
          grid: {
            color: '#EBEBEB',
            lineWidth: ctx => (ctx.tick && isMajorY(ctx.tick.value)) ? 2.2 : 1.1,
            drawTicks: c === 0, tickLength: 7, tickWidth: 2.2,
            tickColor: ctx => (ctx.tick && isMajorY(ctx.tick.value)) ? '#333333' : 'rgba(0,0,0,0)'
          },
          border: { display: false }
        }
      }
    },
    plugins: [boxPlugin]
  });
}

for (let r = 0; r < 3; r++) {
  const pTop = PANEL_TOP0 + r * ROW_STEP;
  addDiv('title', rowTitles[r], { top: (7 + r * ROW_STEP) + 'px' });
  addDiv('ylab', yAxisTitle, { left: (22.3 - 150) + 'px', top: (pTop + PANEL_H / 2 - 15) + 'px' });
  for (let c = 0; c < 4; c++) {
    addDiv('strip', facetLabels[r][c], {
      left: (PANEL_LEFT[c] - 1) + 'px', top: (pTop - 47) + 'px',
      width: (PANEL_W + 2) + 'px', height: '46px'
    });
    makeChart(r, c, pTop);
  }
}
addDiv('xlab', xAxisTitle, { left: (675.5 - 100) + 'px', top: (1448 - 15) + 'px' });
</script>
</body></html>
